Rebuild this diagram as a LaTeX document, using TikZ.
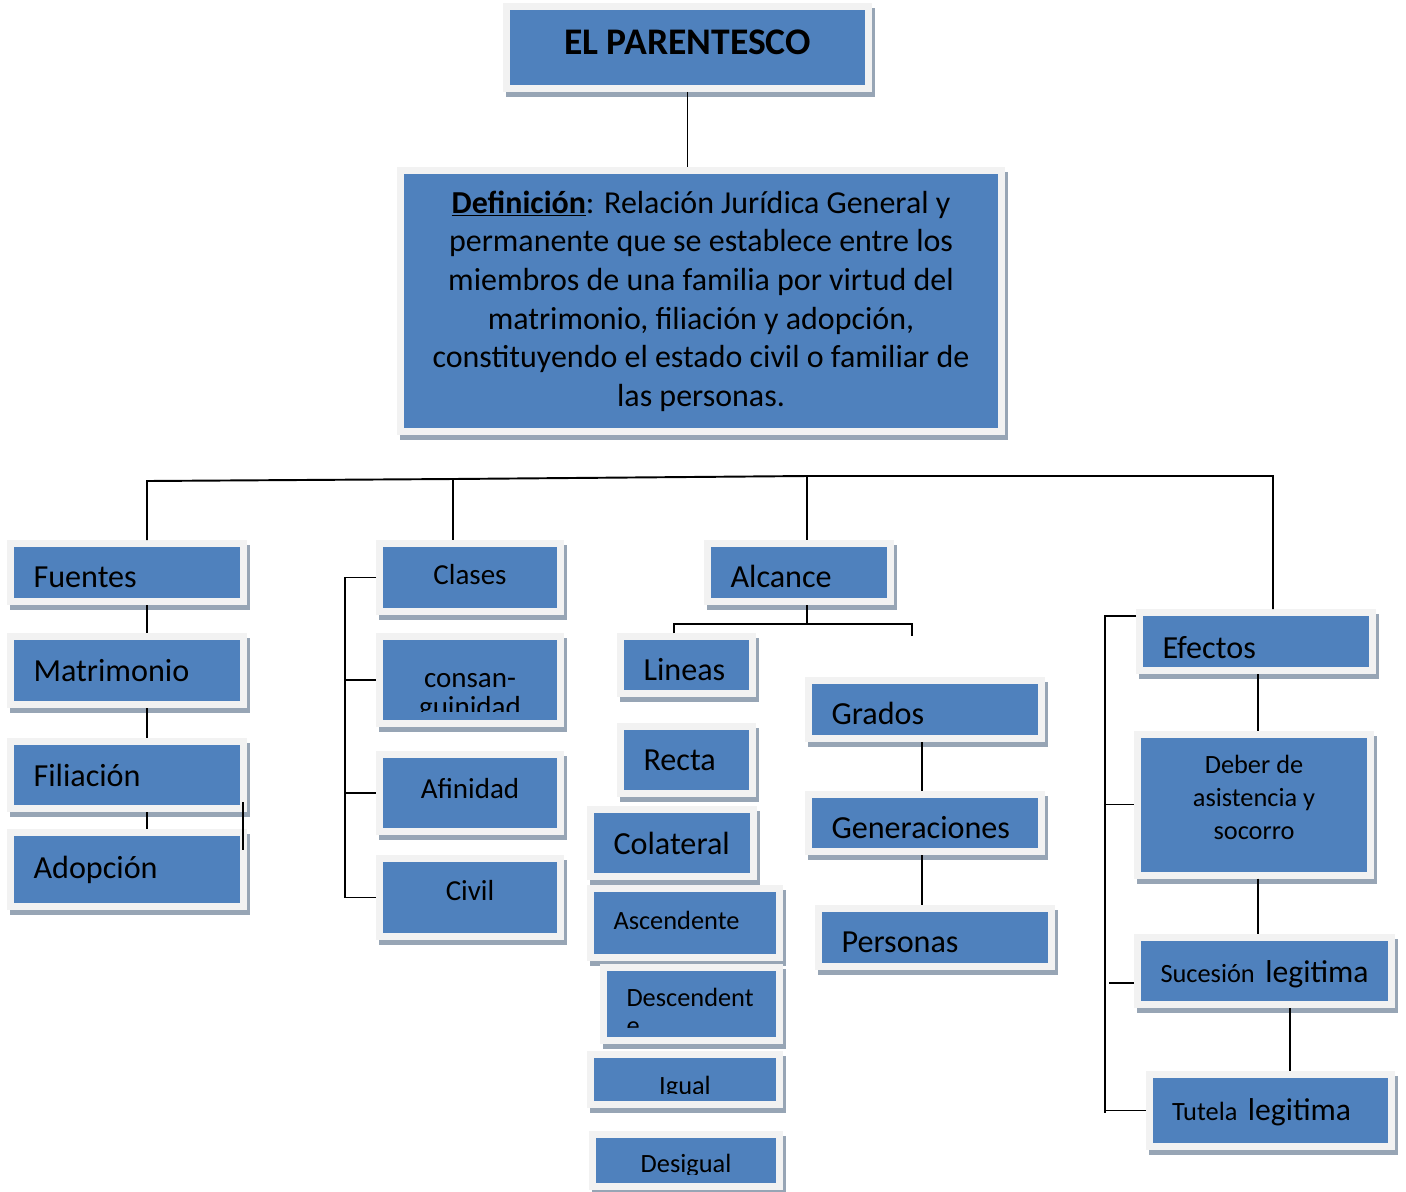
\documentclass[tikz,border=0pt]{standalone}
\usepackage{fontspec}
\setmainfont{Carlito}
\definecolor{azul}{HTML}{4F81BD}
\definecolor{marco}{HTML}{F2F2F2}
\definecolor{sombra}{HTML}{97A5B5}
\tikzset{
  caja/.style={rectangle, fill=azul, draw=marco, line width=0.14cm, inner sep=0pt, outer sep=0.07cm,
    font=\fontsize{18.3}{22}\selectfont,
    preaction={fill=sombra, draw=sombra, line width=0.14cm, transform canvas={shift={(3,5)}}}},
  izq/.style={align=left, text width=#1},
  chico/.style={font=\fontsize{15}{18}\selectfont},
  linea/.style={line width=1.1pt},
}
\begin{document}
\begin{tikzpicture}[x=0.02cm, y=-0.02cm]
\useasboundingbox (0,0) rectangle (1406,1191);

% arriba
\node[caja, minimum width=7.24cm, minimum height=1.64cm, text depth=5.6pt, font={\fontsize{21.4}{25}\selectfont\bfseries}] (titulo) at (687.5,47.5) {EL PARENTESCO};
\node[caja, minimum width=12.02cm, minimum height=5.22cm, align=center, font=\fontsize{18.2}{22}\selectfont] (definicion) at (701,301)
  {\underline{\textbf{Definición}}: Relación Jurídica General y\\
   permanente que se establece entre los\\
   miembros de una familia por virtud del\\
   matrimonio, filiación y adopción,\\
   constituyendo el estado civil o familiar de\\
   las personas.};

% fuentes
\node[caja, minimum width=4.66cm, minimum height=1.16cm, izq=3.74cm, text height=17pt] (fuentes) at (127,572.5) {Fuentes};
\node[caja, minimum width=4.66cm, minimum height=1.36cm, izq=3.74cm] (matrimonio) at (127,670.5) {Matrimonio};
\node[caja, minimum width=4.66cm, minimum height=1.34cm, izq=3.74cm] (filiacion) at (127,775) {Filiación};
\node[caja, minimum width=4.66cm, minimum height=1.48cm, izq=3.74cm] (adopcion) at (127,869.5) {Adopción};

% clases
\node[caja, minimum width=3.62cm, minimum height=1.36cm, text depth=3.4pt, font=\fontsize{16.5}{20}\selectfont] (clases) at (470,577.5) {Clases};
\node[caja, minimum width=3.62cm, minimum height=1.74cm] (consan) at (470,680) {};
\begin{scope}
  \clip (383,640) rectangle (557,711);
  \node[text width=3.3cm, align=center, anchor=base, font=\fontsize{16.5}{16.5}\selectfont] (tconsan) at (470,687) {consan-\\guinidad};
\end{scope}
\node[caja, minimum width=3.62cm, minimum height=1.54cm, text depth=5.7pt, font=\fontsize{16.5}{20}\selectfont] (afinidad) at (470,793) {Afinidad};
\node[caja, minimum width=3.62cm, minimum height=1.56cm, text depth=8pt, font=\fontsize{16.5}{20}\selectfont] (civil) at (470,897.5) {Civil};

% alcance
\node[caja, minimum width=3.66cm, minimum height=1.16cm, izq=2.74cm, text height=17pt] (alcance) at (799,572.5) {Alcance};
\node[caja, minimum width=2.64cm, minimum height=1.14cm, izq=1.72cm, text height=17.5pt] (lineas) at (686.5,665) {Lineas};
\node[caja, minimum width=2.64cm, minimum height=1.34cm, izq=1.72cm] (recta) at (686.5,760) {Recta};
\node[caja, minimum width=3.26cm, minimum height=1.34cm, izq=2.34cm] (colateral) at (672,843) {Colateral};
\node[caja, chico, minimum width=3.78cm, minimum height=1.38cm, izq=2.86cm, text depth=3.4pt] (ascendente) at (685,923) {Ascendente};
\node[caja, minimum width=3.52cm, minimum height=1.46cm] (descendente) at (691.5,1004) {};
\begin{scope}
  \clip (607,971) rectangle (776,1027);
  \node[text width=2.6cm, inner sep=0pt, align=left, anchor=base, font=\fontsize{15}{16}\selectfont] (tdescendente) at (691.5,1006) {Descendent\\e};
\end{scope}
\node[caja, minimum width=3.78cm, minimum height=1cm] (igual) at (685,1079.5) {};
\begin{scope}
  \clip (594,1058) rectangle (776,1093);
  \node[chico, anchor=base] (tigual) at (685,1094) {Igual};
\end{scope}
\node[caja, minimum width=3.74cm, minimum height=1.04cm] (desigual) at (686,1160.5) {};
\begin{scope}
  \clip (596,1138) rectangle (776,1174);
  \node[chico, anchor=base] (tdesigual) at (686,1172) {Desigual};
\end{scope}

% grados
\node[caja, minimum width=4.66cm, minimum height=1.16cm, izq=3.74cm, text height=17pt] (grados) at (925,709.5) {Grados};
\node[caja, minimum width=4.66cm, minimum height=1.14cm, izq=3.74cm, text height=17.5pt] (generaciones) at (925,823) {Generaciones};
\node[caja, minimum width=4.66cm, minimum height=1.16cm, izq=3.74cm, text height=17pt] (personas) at (935,937.5) {Personas};

% efectos
\node[caja, minimum width=4.66cm, minimum height=1.16cm, izq=3.74cm, text height=19pt] (efectos) at (1256,641.5) {Efectos};
\node[caja, minimum width=4.66cm, minimum height=2.82cm, align=center, text depth=8pt, font=\fontsize{15}{18.7}\selectfont] (deber) at (1254,804.5) {Deber de\\asistencia y\\socorro};
\node[caja, minimum width=5.08cm, minimum height=1.34cm, izq=4.16cm, text height=16pt, font=\fontsize{18}{21}\selectfont] (sucesion) at (1264.5,971) {\mbox{{\fontsize{15}{18}\selectfont Sucesión} legitima}};
\node[caja, minimum width=4.86cm, minimum height=1.44cm, izq=3.94cm, text height=14.5pt, font=\fontsize{18}{21}\selectfont] (tutela) at (1270.5,1110.5) {\mbox{{\fontsize{15}{18}\selectfont Tutela} legitima}};

% conectores
\coordinate (b1) at (147,481);
\coordinate (b2) at (453,479);
\coordinate (b3) at (807,476);
\coordinate (b4) at (1273,476);
\draw[linea] (titulo.south) -- (titulo.south |- definicion.north);
\draw[linea] (b1 |- fuentes.north) -- (b1) -- (b2) -- (b3) -- (b4) -- (b4 |- efectos.north);
\draw[linea] (b2) -- (b2 |- clases.north);
\draw[linea] (b3) -- (b3 |- alcance.north);

\draw[linea] (fuentes.south -| b1) -- (matrimonio.north -| b1);
\draw[linea] (matrimonio.south -| b1) -- (filiacion.north -| b1);
\draw[linea] (filiacion.south -| b1) -- (adopcion.north -| b1);
\coordinate (r1) at (243,802);
\coordinate (r2) at (243,850);
\draw[linea] (r1) -- (r2);

\coordinate (cl) at (345,0);
\draw[linea] (clases.west) -- (clases.west -| cl) -- (civil.west -| cl) -- (civil.west);
\draw[linea] (consan.west -| cl) -- (consan.west);
\draw[linea] (afinidad.west -| cl) -- (afinidad.west);

\coordinate (al) at (807,624);
\coordinate (a1) at (674,624);
\coordinate (a2) at (912,624);
\coordinate (a3) at (912,636);
\draw[linea] (alcance.south -| al) -- (al);
\draw[linea] (a1 |- lineas.north) -- (a1) -- (a2) -- (a3);

\coordinate (g) at (922,0);
\draw[linea] (grados.south -| g) -- (generaciones.north -| g);
\draw[linea] (generaciones.south -| g) -- (personas.north -| g);

\coordinate (e) at (1258,0);
\coordinate (s) at (1290,0);
\draw[linea] (efectos.south -| e) -- (deber.north -| e);
\draw[linea] (deber.south -| e) -- (sucesion.north -| e);
\draw[linea] (sucesion.south -| s) -- (tutela.north -| s);

\coordinate (ef) at (1105,616);
\coordinate (ef2) at (1105,1113);
\coordinate (su) at (1109,983);
\draw[linea] (ef -| efectos.west) -- (ef) -- (ef2);
\draw[linea] (deber.west -| ef) -- (deber.west);
\draw[linea] (su) -- (su -| sucesion.west);
\draw[linea] (tutela.west -| ef) -- (tutela.west);
\end{tikzpicture}
\end{document}
